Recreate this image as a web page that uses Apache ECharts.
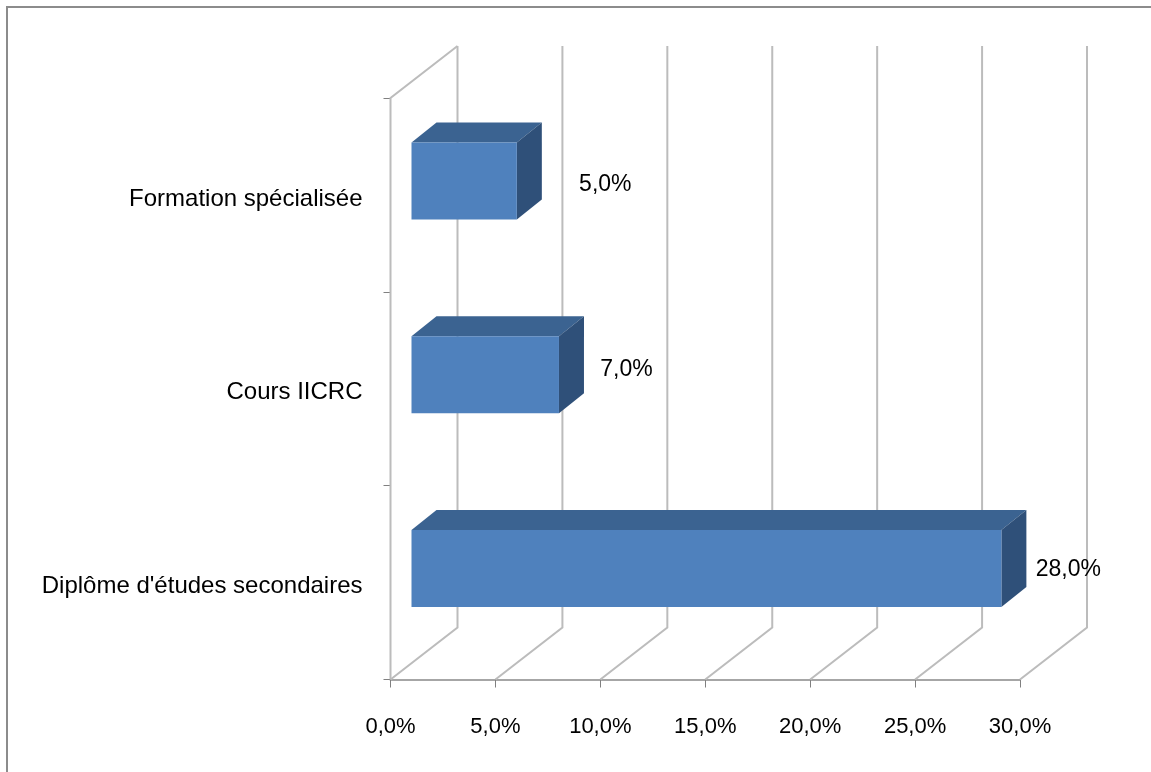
<!DOCTYPE html>
<html><head><meta charset="utf-8">
<style>html,body{margin:0;padding:0;background:#fff}#c{width:1151px;height:772px}</style>
<script src="https://cdn.jsdelivr.net/npm/echarts@6/dist/echarts.min.js"></script>
</head><body><div id="c"></div>
<script>
const categories = ["Diplôme d'études secondaires", "Cours IICRC", "Formation spécialisée"];
const values = [28.0, 7.0, 5.0];
const valueTicks = [0, 5, 10, 15, 20, 25, 30];
const FONT = '"Liberation Sans", sans-serif';
const fmt = v => v.toFixed(1).replace('.', ',') + '%';

// projection layout of the pseudo-3D box
const WALL = {dx: 67, dy: -52};
const BOX = {gap: 21, depthX: 25, depthY: -20, h: 77, up: -14, scale: 1.004};
const labelShift = [[67, 1], [67.5, -5.5], [88.5, 4]];

const chart = echarts.init(document.getElementById('c'), null, {renderer: 'canvas'});
const wallStyle = {stroke: '#bcbcbc', lineWidth: 2, fill: null};

function renderWall(params, api) {
  const v = api.value(0);
  const cs = params.coordSys;
  const base = [api.coord([v, 0])[0], cs.y + cs.height];
  const back = [base[0] + WALL.dx, base[1] + WALL.dy];
  const backTop = [back[0], cs.y + WALL.dy];
  const children = [{type: 'polyline', shape: {points: [base, back, backTop]}, style: wallStyle, silent: true}];
  if (v === 0) {
    children.push({type: 'polyline', shape: {points: [base, [base[0], cs.y], backTop]}, style: wallStyle, silent: true});
  }
  return {type: 'group', children};
}

function renderBox(params, api) {
  const v = api.value(0), i = api.value(1);
  const origin = api.coord([0, i]), end = api.coord([v, i]);
  const x0 = origin[0] + BOX.gap;
  const x1 = x0 + (end[0] - origin[0]) * BOX.scale;
  const yc = origin[1] + BOX.up;
  const t = yc - BOX.h / 2, b = yc + BOX.h / 2;
  const dx = BOX.depthX, dy = BOX.depthY;
  const sh = labelShift[i];
  return {type: 'group', children: [
    {type: 'polygon', shape: {points: [[x0, t], [x1, t], [x1 + dx, t + dy], [x0 + dx, t + dy]]}, style: {fill: '#3b6391'}},
    {type: 'polygon', shape: {points: [[x1, t], [x1 + dx, t + dy], [x1 + dx, b + dy], [x1, b]]}, style: {fill: '#2f5079'}},
    {type: 'rect', shape: {x: x0, y: t, width: x1 - x0, height: b - t}, style: {fill: '#4f81bd'}},
    {type: 'text', style: {x: x1 + sh[0], y: yc + sh[1], text: fmt(v), fill: '#000', font: '23px ' + FONT, align: 'center', verticalAlign: 'middle'}}
  ]};
}

chart.setOption({
  animation: false,
  backgroundColor: '#fff',
  graphic: [{type: 'rect', shape: {x: 7, y: 7, width: 1150, height: 770}, style: {fill: null, stroke: '#8c8c8c', lineWidth: 2}, silent: true}],
  grid: {left: 390.5, top: 98, width: 629.5, height: 581.5, containLabel: false},
  xAxis: {type: 'value', min: 0, max: 30, interval: 5,
    axisLine: {show: true, lineStyle: {color: '#a6a6a6', width: 2}},
    axisTick: {show: true, length: 8, lineStyle: {color: '#808080'}},
    splitLine: {show: false},
    axisLabel: {formatter: fmt, color: '#000', fontFamily: FONT, fontSize: 22, margin: 36, showMinLabel: true, showMaxLabel: true}},
  yAxis: {type: 'category', data: categories,
    axisLine: {show: false},
    axisTick: {show: true, length: 7, alignWithLabel: false, lineStyle: {color: '#808080'}},
    axisLabel: {color: '#000', fontFamily: FONT, fontSize: 24, margin: 28, verticalAlign: 'top', lineHeight: 8}},
  series: [
    {type: 'custom', coordinateSystem: 'cartesian2d', renderItem: renderWall, clip: false, z: 1,
     encode: {x: 0}, data: valueTicks.map(v => [v, 0]), silent: true},
    {type: 'custom', coordinateSystem: 'cartesian2d', renderItem: renderBox, clip: false, z: 2,
     encode: {x: 0, y: 1}, data: values.map((v, i) => [v, i]), silent: true}
  ]
});
</script></body></html>
